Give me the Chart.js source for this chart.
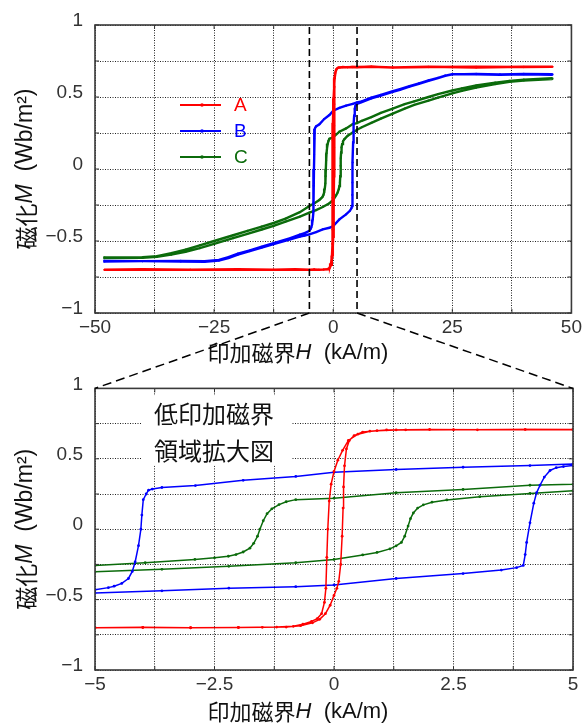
<!DOCTYPE html>
<html>
<head>
<meta charset="utf-8">
<script src="https://cdn.jsdelivr.net/npm/chart.js@4.4.0/dist/chart.umd.min.js"></script>
<style>
  body { margin: 0; background: #fff; }
  #wrap { position: relative; width: 585px; height: 727px; }
  #wrap canvas { position: absolute; left: 0; }
</style>
</head>
<body>
<div id="wrap">
  <canvas id="chartTop" width="585" height="365" style="top:0"></canvas>
  <canvas id="chartZoom" width="585" height="362" style="top:365px"></canvas>
  <canvas id="guides" width="585" height="727" style="top:0;pointer-events:none"></canvas>
</div>
<script>
// --- datos (H en kA/m, M en Wb/m2) ---
// cada lazo: rama superior (H decreciente) y luego rama inferior (H creciente)
const hA = [46, 40, 30, 20, 12.5, 8, 5, 4, 3, 2, 1.5, 1.1, 0.75, 0.5, 0.3, 0.18, 0.08, 0, -0.06, -0.1, -0.13, -0.15, -0.17, -0.2, -0.26, -0.35, -0.47, -0.65, -0.85, -1.2, -2, -3, -4, -5, -8, -12.5, -20, -30, -40, -48,
            -48, -40, -30, -20, -12.5, -8, -5, -4, -3, -2, -1.5, -1, -0.7, -0.45, -0.3, -0.18, -0.08, 0, 0.06, 0.1, 0.14, 0.17, 0.19, 0.2, 0.22, 0.26, 0.32, 0.42, 0.6, 0.9, 1.3, 2.5, 5, 8, 12.5, 20, 30, 40, 46];
const mA = [0.71, 0.71, 0.705, 0.71, 0.705, 0.71, 0.707, 0.708, 0.706, 0.708, 0.706, 0.705, 0.696, 0.675, 0.63, 0.56, 0.49, 0.41, 0.32, 0.2, 0.0, -0.2, -0.42, -0.52, -0.6, -0.635, -0.655, -0.675, -0.69, -0.695, -0.698, -0.7, -0.697, -0.7, -0.695, -0.7, -0.698, -0.7, -0.698, -0.7,
            -0.7, -0.698, -0.7, -0.698, -0.7, -0.698, -0.7, -0.698, -0.7, -0.698, -0.697, -0.695, -0.685, -0.665, -0.64, -0.6, -0.54, -0.47, -0.42, -0.37, -0.25, -0.05, 0.15, 0.3, 0.45, 0.57, 0.63, 0.665, 0.69, 0.7, 0.705, 0.707, 0.708, 0.71, 0.705, 0.708, 0.71, 0.708, 0.71];

const hB = [46, 40, 35, 30, 25, 23.5, 22, 20, 18, 16, 14, 12.5, 10, 8, 6, 5, 4.1, 2.7, 1.3, 0, -0.8, -1.9, -2.9, -3.6, -3.8, -3.88, -3.93, -3.99, -4.02, -4.04, -4.09, -4.16, -4.22, -4.3, -4.44, -4.6, -4.72, -5, -6, -7, -9, -12.5, -15, -17.5, -20, -22, -24, -27, -32, -40, -48,
            -48, -40, -32, -27, -24, -22, -20, -17.5, -15, -12.5, -9, -7, -6, -5, -3.6, -2.2, -0.8, 0, 1.3, 2.7, 3.5, 3.82, 3.96, 4.0, 4.03, 4.1, 4.18, 4.24, 4.31, 4.4, 4.52, 4.65, 4.8, 5, 6, 8, 10, 12.5, 14, 16, 18, 20, 22, 23.5, 25, 30, 35, 40, 46];
const mB = [0.655, 0.658, 0.655, 0.658, 0.658, 0.648, 0.633, 0.615, 0.595, 0.575, 0.555, 0.54, 0.515, 0.495, 0.47, 0.463, 0.452, 0.44, 0.424, 0.405, 0.375, 0.347, 0.31, 0.296, 0.285, 0.277, 0.25, 0.21, 0.1, 0.0, -0.117, -0.233, -0.3, -0.35, -0.385, -0.405, -0.415, -0.43, -0.445, -0.455, -0.48, -0.515, -0.54, -0.565, -0.588, -0.612, -0.632, -0.64, -0.638, -0.64, -0.638,
            -0.642, -0.64, -0.642, -0.645, -0.636, -0.618, -0.594, -0.57, -0.546, -0.522, -0.488, -0.47, -0.462, -0.454, -0.438, -0.419, -0.408, -0.396, -0.35, -0.315, -0.29, -0.273, -0.257, -0.18, -0.094, 0.045, 0.185, 0.26, 0.312, 0.37, 0.417, 0.437, 0.445, 0.452, 0.465, 0.49, 0.51, 0.535, 0.55, 0.572, 0.592, 0.612, 0.632, 0.647, 0.657, 0.66, 0.656, 0.66, 0.658];

const hC = [46, 40, 37, 34, 30, 27, 25, 22, 20, 17, 15, 12.5, 10, 8, 6, 5, 4.1, 2.7, 1.3, 0, -0.8, -1.0, -1.15, -1.3, -1.4, -1.48, -1.55, -1.6, -1.68, -1.76, -1.9, -2.05, -2.21, -2.5, -2.91, -3.95, -5, -7, -10, -12.5, -15, -18, -21, -25, -28, -31, -34, -37, -40, -48,
            -48, -40, -37, -34, -31, -28, -25, -21, -18, -15, -12.5, -10, -7, -5, -3.6, -2.2, -0.8, 0, 0.6, 0.9, 1.17, 1.3, 1.41, 1.48, 1.55, 1.6, 1.66, 1.75, 1.87, 2.05, 2.36, 3.05, 4.1, 5, 6, 8, 10, 12.5, 15, 17, 20, 22, 25, 27, 30, 34, 37, 40, 46];
const mC = [0.63, 0.62, 0.612, 0.6, 0.58, 0.56, 0.545, 0.52, 0.5, 0.47, 0.45, 0.42, 0.39, 0.36, 0.335, 0.319, 0.312, 0.282, 0.259, 0.22, 0.21, 0.195, 0.175, 0.145, 0.11, 0.06, 0.0, -0.05, -0.1, -0.135, -0.162, -0.18, -0.192, -0.203, -0.215, -0.238, -0.257, -0.3, -0.345, -0.375, -0.4, -0.43, -0.46, -0.5, -0.53, -0.56, -0.585, -0.605, -0.613, -0.615,
            -0.618, -0.617, -0.61, -0.595, -0.575, -0.55, -0.52, -0.48, -0.45, -0.42, -0.395, -0.365, -0.33, -0.303, -0.285, -0.264, -0.238, -0.215, -0.183, -0.165, -0.14, -0.118, -0.094, -0.05, 0.022, 0.075, 0.115, 0.15, 0.173, 0.192, 0.208, 0.231, 0.254, 0.273, 0.29, 0.32, 0.35, 0.385, 0.42, 0.445, 0.475, 0.495, 0.525, 0.542, 0.565, 0.59, 0.605, 0.615, 0.625];

const nombres = ['A', 'B', 'C'];
const colores = ['#ff0000', '#0000ff', '#0b6b0b'];
const rangoTotal = [-50, 50];
const rangoZoom = [-5, 5];
const notaZoom = ['低印加磁界', '領域拡大図'];
const tituloX = [['印加磁界', 'cjk'], ['H', 'it'], ['  (kA/m)', 'lat']];
const tituloY = [['磁化', 'cjk'], ['M', 'it'], ['  (Wb/m²)', 'lat']];

const FUENTE_LAT = '"Liberation Sans", Arial, sans-serif';
const FUENTE_CJK = '"Noto Sans CJK JP", sans-serif';

function puntos(h, m) {
    return h.map((x, i) => ({ x: x, y: m[i] }));
}

function fmt(v) {
    return String(v).replace('-', '\u2212');
}

// dibuja un texto con tramos de distinta fuente, centrado en (0,0)
function textoMixto(ctx, partes, size) {
    const fonts = {
        cjk: size + 'px ' + FUENTE_CJK,
        it: 'italic ' + size + 'px ' + FUENTE_LAT,
        lat: size + 'px ' + FUENTE_LAT
    };
    let total = 0;
    partes.forEach(p => { ctx.font = fonts[p[1]]; total += ctx.measureText(p[0]).width; });
    let x = -total / 2;
    ctx.textBaseline = 'middle';
    ctx.textAlign = 'left';
    partes.forEach(p => {
        ctx.font = fonts[p[1]];
        ctx.fillText(p[0], x, 0);
        x += ctx.measureText(p[0]).width;
    });
}

const marcoPlugin = {
    id: 'marco',
    afterDatasetsDraw(chart) {
        const { ctx, chartArea: a, scales } = chart;
        ctx.save();
        ctx.strokeStyle = '#333';
        ctx.lineWidth = 1;
        ctx.beginPath();
        scales.x.ticks.forEach(t => {
            const px = scales.x.getPixelForValue(t.value);
            ctx.moveTo(px, a.top); ctx.lineTo(px, a.top + 4);
            ctx.moveTo(px, a.bottom); ctx.lineTo(px, a.bottom - 4);
        });
        scales.y.ticks.forEach(t => {
            const py = scales.y.getPixelForValue(t.value);
            ctx.moveTo(a.left, py); ctx.lineTo(a.left + 4, py);
            ctx.moveTo(a.right, py); ctx.lineTo(a.right - 4, py);
        });
        ctx.stroke();
        ctx.lineWidth = 1.6;
        ctx.strokeStyle = '#3a3a3a';
        ctx.strokeRect(a.left, a.top, a.width, a.height);
        ctx.restore();
    },
    afterDraw(chart, args, opts) {
        const { ctx, chartArea: a } = chart;
        ctx.save();
        ctx.fillStyle = '#111';
        ctx.translate(opts.xTitleX, a.bottom + opts.xTitleDy);
        textoMixto(ctx, tituloX, 22);
        ctx.restore();
        ctx.save();
        ctx.fillStyle = '#111';
        ctx.translate(opts.yTitleX, (a.top + a.bottom) / 2);
        ctx.rotate(-Math.PI / 2);
        textoMixto(ctx, tituloY, 23);
        ctx.restore();
    }
};

const guiasPlugin = {
    id: 'guias',
    afterDatasetsDraw(chart, args, opts) {
        if (!opts.valores) return;
        const { ctx, chartArea: a, scales } = chart;
        ctx.save();
        ctx.strokeStyle = '#000';
        ctx.lineWidth = 1.6;
        ctx.setLineDash([7, 4]);
        opts.valores.forEach(v => {
            const px = scales.x.getPixelForValue(v);
            ctx.beginPath();
            ctx.moveTo(px, a.top + 2);
            ctx.lineTo(px, a.bottom);
            ctx.stroke();
        });
        ctx.restore();
    }
};

const leyendaPlugin = {
    id: 'leyenda',
    afterDatasetsDraw(chart, args, opts) {
        if (!opts.mostrar) return;
        const { ctx, chartArea: a } = chart;
        ctx.save();
        chart.data.datasets.forEach((ds, i) => {
            const y = a.top + 80 + i * 26;
            const x0 = a.left + 85;
            ctx.strokeStyle = ds.borderColor;
            ctx.lineWidth = 2;
            ctx.beginPath();
            ctx.moveTo(x0, y); ctx.lineTo(x0 + 41, y);
            ctx.stroke();
            ctx.fillStyle = ds.borderColor;
            ctx.beginPath();
            ctx.arc(x0 + 22, y, 1.8, 0, Math.PI * 2);
            ctx.fill();
            ctx.font = '19px ' + FUENTE_LAT;
            ctx.textBaseline = 'middle';
            ctx.fillText(ds.label, x0 + 54, y + 1);
        });
        ctx.restore();
    }
};

const notaPlugin = {
    id: 'nota',
    beforeDatasetsDraw(chart, args, opts) {
        if (!opts.lineas) return;
        const { ctx, chartArea: a } = chart;
        ctx.save();
        ctx.fillStyle = '#fff';
        ctx.fillRect(a.left + 46, a.top + 7, 150, 70);
        ctx.fillStyle = '#111';
        ctx.font = '24px ' + FUENTE_CJK;
        ctx.textAlign = 'center';
        ctx.textBaseline = 'middle';
        opts.lineas.forEach((t, i) => ctx.fillText(t, a.left + 119, a.top + 25 + i * 37));
        ctx.restore();
    }
};

function crearGrafico(canvasId, cfg) {
    const datasets = [puntos(hA, mA), puntos(hB, mB), puntos(hC, mC)].map((d, i) => ({
        label: nombres[i],
        data: d,
        showLine: true,
        borderColor: colores[i],
        backgroundColor: colores[i],
        borderWidth: cfg.ancho,
        pointRadius: cfg.punto,
        pointBorderWidth: 0,
        tension: 0
    }));
    const ejeComun = (min, max, paso, mayor) => ({
        type: 'linear', min: min, max: max,
        grid: { color: '#222', lineWidth: 1, drawTicks: false },
        border: { display: false, dash: [1, 1.5] },
        ticks: {
            stepSize: paso, autoSkip: false, maxRotation: 0,
            color: '#333', font: { family: FUENTE_LAT, size: 19 },
            callback: v => Math.abs(v / mayor - Math.round(v / mayor)) < 1e-9 ? fmt(v) : ''
        }
    });
    const ejeX = ejeComun(cfg.rango[0], cfg.rango[1], cfg.paso, cfg.mayor);
    ejeX.ticks.padding = 3;
    ejeX.afterFit = s => { s.height = cfg.altoX; };
    const ejeY = ejeComun(-1, 1, 0.25, 0.5);
    ejeY.ticks.padding = 12;
    ejeY.ticks.labelOffset = -4;
    ejeY.afterFit = s => { s.width = 95; };

    return new Chart(document.getElementById(canvasId), {
        type: 'scatter',
        data: { datasets: datasets },
        options: {
            responsive: false,
            animation: false,
            layout: { padding: { left: 0, right: 12, top: cfg.arriba, bottom: 0 } },
            scales: { x: ejeX, y: ejeY },
            plugins: {
                legend: { display: false },
                tooltip: { enabled: false },
                marco: { xTitleX: 298, xTitleDy: cfg.tituloDy, yTitleX: 26 },
                guias: { valores: cfg.guias },
                leyenda: { mostrar: cfg.leyenda },
                nota: { lineas: cfg.nota }
            }
        },
        plugins: [marcoPlugin, guiasPlugin, leyendaPlugin, notaPlugin]
    });
}

const graficoTotal = crearGrafico('chartTop', {
    rango: rangoTotal, paso: 12.5, mayor: 25, arriba: 25, altoX: 52, tituloDy: 40,
    ancho: 2.4, punto: 1.1, guias: rangoZoom, leyenda: true, nota: null
});
const graficoZoom = crearGrafico('chartZoom', {
    rango: rangoZoom, paso: 1.25, mayor: 2.5, arriba: 18, altoX: 57, tituloDy: 42,
    ancho: 1.5, punto: 1.4, guias: null, leyenda: false, nota: notaZoom
});

// lineas de union entre la zona ampliada y el segundo grafico
(function unir() {
    const ctx = document.getElementById('guides').getContext('2d');
    const offY = 365;
    const a1 = graficoTotal.chartArea;
    const a2 = graficoZoom.chartArea;
    const xs = rangoZoom.map(v => graficoTotal.scales.x.getPixelForValue(v));
    ctx.strokeStyle = '#000';
    ctx.lineWidth = 1.5;
    ctx.setLineDash([9, 5]);
    ctx.beginPath();
    ctx.moveTo(xs[0], a1.bottom); ctx.lineTo(a2.left, offY + a2.top);
    ctx.moveTo(xs[1], a1.bottom); ctx.lineTo(a2.right, offY + a2.top);
    ctx.stroke();
})();
</script>
</body>
</html>
